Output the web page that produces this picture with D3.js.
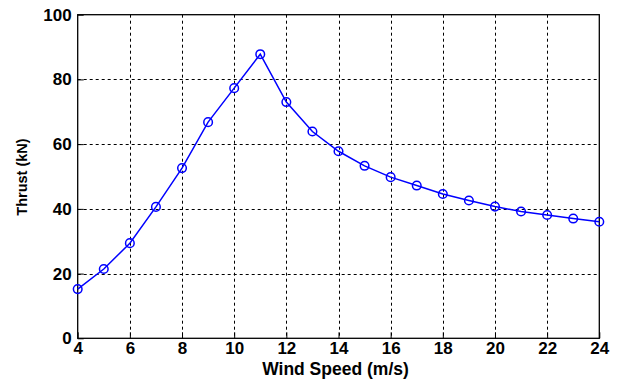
<!DOCTYPE html>
<html>
<head>
<meta charset="utf-8">
<script src="https://cdn.jsdelivr.net/npm/d3@7"></script>
<style>
  html, body { margin: 0; padding: 0; background: #fff; }
  svg { display: block; }
  text { font-family: "Liberation Sans", Arial, sans-serif; font-weight: bold; fill: #000; }
</style>
</head>
<body>
<svg id="chart" width="620" height="381"></svg>
<script>
// Wind speed (m/s) and rotor thrust (kN)
const windSpeed = [4, 5, 6, 7, 8, 9, 10, 11, 12, 13, 14, 15, 16, 17, 18, 19, 20, 21, 22, 23, 24];
const thrust = [15.2, 21.4, 29.4, 40.6, 52.6, 66.8, 77.3, 87.8, 73.0, 63.9, 57.8, 53.3, 49.8, 47.2, 44.6, 42.6, 40.7, 39.2, 38.1, 37.0, 36.0];
const xTicks = [4, 6, 8, 10, 12, 14, 16, 18, 20, 22, 24];
const yTicks = [0, 20, 40, 60, 80, 100];

(function () {
  const svg = d3.select("#chart");
  const plotLeft = 77.7, plotRight = 599.3, plotTop = 14.7, plotBottom = 338.3;
  const tickFont = "17px";

  const x = d3.scaleLinear().domain([4, 24]).range([plotLeft, plotRight]);
  const y = d3.scaleLinear().domain([0, 100]).range([plotBottom, plotTop]);

  // dashed grid
  const grid = svg.append("g").attr("stroke", "#000").attr("stroke-width", 1)
    .attr("stroke-dasharray", "3,3");
  grid.selectAll("line.v").data(xTicks.slice(1, -1)).join("line")
    .attr("x1", d => Math.round(x(d)) + 0.5).attr("x2", d => Math.round(x(d)) + 0.5)
    .attr("y1", plotTop).attr("y2", plotBottom);
  grid.selectAll("line.h").data(yTicks.slice(1, -1)).join("line")
    .attr("y1", d => Math.round(y(d)) + 0.5).attr("y2", d => Math.round(y(d)) + 0.5)
    .attr("x1", plotLeft).attr("x2", plotRight);

  // frame
  svg.append("rect").attr("x", plotLeft).attr("y", plotTop)
    .attr("width", plotRight - plotLeft).attr("height", plotBottom - plotTop)
    .attr("fill", "none").attr("stroke", "#000").attr("stroke-width", 1.3);

  // axes
  const xAxis = d3.axisBottom(x).tickValues(xTicks).tickSize(-6).tickPadding(4).tickFormat(d3.format("d"));
  const gx = svg.append("g").attr("transform", `translate(0,${plotBottom})`).call(xAxis);
  gx.select(".domain").remove();
  gx.selectAll("text").style("font-size", tickFont).style("font-family", "'Liberation Sans', Arial, sans-serif").style("font-weight", "bold");

  const yAxis = d3.axisLeft(y).tickValues(yTicks).tickSize(-6).tickPadding(6).tickFormat(d3.format("d"));
  const gy = svg.append("g").attr("transform", `translate(${plotLeft},0)`).call(yAxis);
  gy.select(".domain").remove();
  gy.selectAll("text").style("font-size", tickFont).style("font-family", "'Liberation Sans', Arial, sans-serif").style("font-weight", "bold");

  // axis titles
  svg.append("text").attr("x", 335.5).attr("y", 375)
    .attr("text-anchor", "middle").style("font-size", "17.5px").text("Wind Speed (m/s)");
  svg.append("text").attr("transform", "translate(26.5,177) rotate(-90)")
    .attr("text-anchor", "middle").style("font-size", "14.5px").text("Thrust (kN)");

  // series
  const pts = windSpeed.map((w, i) => [w, thrust[i]]);
  svg.append("path").datum(pts)
    .attr("fill", "none").attr("stroke", "#0000ff").attr("stroke-width", 1.5)
    .attr("d", d3.line().x(d => x(d[0])).y(d => y(d[1])));
  svg.selectAll("circle.pt").data(pts).join("circle")
    .attr("cx", d => x(d[0])).attr("cy", d => y(d[1])).attr("r", 4.3)
    .attr("fill", "none").attr("stroke", "#0000ff").attr("stroke-width", 1.5);
})();
</script>
</body>
</html>
